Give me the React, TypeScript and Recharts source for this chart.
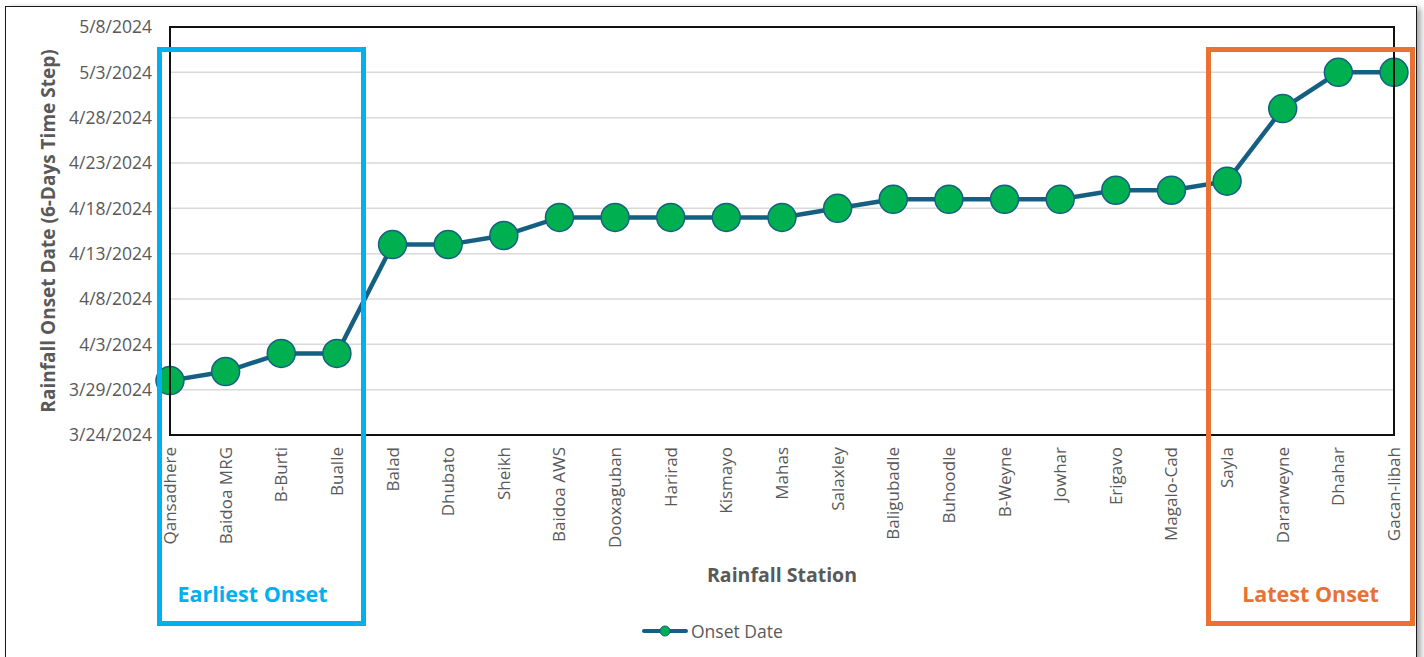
import React from "react";
import { LineChart, Line, XAxis, YAxis, CartesianGrid, Legend } from "recharts";

// Stations ordered from earliest to latest onset
const stations: string[] = [
  "Qansadhere", "Baidoa MRG", "B-Burti", "Bualle", "Balad", "Dhubato", "Sheikh",
  "Baidoa AWS", "Dooxaguban", "Harirad", "Kismayo", "Mahas", "Salaxley",
  "Baligubadle", "Buhoodle", "B-Weyne", "Jowhar", "Erigavo", "Magalo-Cad",
  "Sayla", "Dararweyne", "Dhahar", "Gacan-libah",
];

// Rainfall onset date per station (ISO)
const onsetDates: string[] = [
  "2024-03-30", "2024-03-31", "2024-04-02", "2024-04-02", "2024-04-14", "2024-04-14",
  "2024-04-15", "2024-04-17", "2024-04-17", "2024-04-17", "2024-04-17", "2024-04-17",
  "2024-04-18", "2024-04-19", "2024-04-19", "2024-04-19", "2024-04-19", "2024-04-20",
  "2024-04-20", "2024-04-21", "2024-04-29", "2024-05-03", "2024-05-03",
];

// Y-axis ticks, five days apart
const tickDates: string[] = [
  "2024-03-24", "2024-03-29", "2024-04-03", "2024-04-08", "2024-04-13",
  "2024-04-18", "2024-04-23", "2024-04-28", "2024-05-03", "2024-05-08",
];

const DAY = 86400000;
const toDay = (iso: string) => {
  const [y, m, d] = iso.split("-").map(Number);
  return Date.UTC(y, m - 1, d) / DAY;
};
const fmtDay = (v: number) => {
  const dt = new Date(v * DAY);
  return `${dt.getUTCMonth() + 1}/${dt.getUTCDate()}/${dt.getUTCFullYear()}`;
};

const data = stations.map((s, i) => ({ station: s, onset: toDay(onsetDates[i]) }));
const yTicks = tickDates.map(toDay);

const FONT = "'Open Sans', 'Noto Sans', sans-serif";
const LINE = "#156082";
const DOT = "#00B050";
const GREY = "#595959";

const StationTick = (props: any) => {
  const { x, y, payload } = props;
  return (
    <g transform={`translate(${x},${y})`}>
      <text
        transform="rotate(-90)"
        textAnchor="end"
        dy={6}
        x={0}
        y={0}
        fill={GREY}
        fontSize={17}
        fontFamily={FONT}
      >
        {payload.value}
      </text>
    </g>
  );
};

const LegendContent = () => (
  <div style={{ display: "flex", alignItems: "center", fontFamily: FONT, fontSize: 17.5, color: GREY }}>
    <svg width={46} height={12} style={{ marginRight: 3 }}>
      <line x1={2} y1={6} x2={44} y2={6} stroke={LINE} strokeWidth={4} strokeLinecap="round" />
      <circle cx={23} cy={6} r={5} fill={DOT} stroke={LINE} strokeWidth={1} />
    </svg>
    <span>Onset Date</span>
  </div>
);

const Box = ({
  left,
  width,
  color,
  label,
  shift = 0,
}: {
  left: number;
  width: number;
  color: string;
  label: string;
  shift?: number;
}) => (
  <div
    style={{
      position: "absolute",
      left,
      top: 47,
      width,
      height: 579,
      boxSizing: "border-box",
      border: `5px solid ${color}`,
      pointerEvents: "none",
    }}
  >
    <div
      style={{
        position: "absolute",
        left: shift,
        right: -shift,
        top: 527,
        textAlign: "center",
        color,
        fontFamily: FONT,
        fontWeight: 700,
        fontSize: 21.5,
        whiteSpace: "nowrap",
      }}
    >
      {label}
    </div>
  </div>
);

export default function App() {
  return (
    <div style={{ position: "absolute", left: 0, top: 0, width: 1424, height: 657, background: "#fff", overflow: "hidden" }}>
      <div
        style={{
          position: "absolute",
          left: 5,
          top: 6,
          width: 1412,
          height: 680,
          boxSizing: "border-box",
          border: "1.5px solid #1a1a1a",
          boxShadow: "4px 2px 6px rgba(0,0,0,0.35)",
          background: "#fff",
        }}
      />
      <div style={{ position: "absolute", left: 0, top: 0 }}>
        <LineChart
          width={1424}
          height={657}
          data={data}
          margin={{ top: 27, right: 30, bottom: 82, left: 0 }}
        >
          <CartesianGrid vertical={false} stroke="#d9d9d9" strokeWidth={1.5} />
          <XAxis
            dataKey="station"
            interval={0}
            height={140}
            tickLine={false}
            axisLine={false}
            tick={<StationTick />}
            tickSize={0}
            tickMargin={12}
            label={{
              content: (p: any) => {
                const vb = p.viewBox;
                return (
                  <text
                    x={vb.x + vb.width / 2}
                    y={582}
                    textAnchor="middle"
                    fill={GREY}
                    fontFamily={FONT}
                    fontWeight={700}
                    fontSize={19.5}
                  >
                    Rainfall Station
                  </text>
                );
              },
            }}
          />
          <YAxis
            type="number"
            domain={[yTicks[0], yTicks[yTicks.length - 1]]}
            ticks={yTicks}
            interval={0}
            width={170}
            tickFormatter={fmtDay}
            tickLine={false}
            axisLine={false}
            tickSize={0}
            tickMargin={18}
            tick={{ fill: GREY, fontSize: 17.5, fontFamily: FONT }}
            label={{
              content: (p: any) => {
                const vb = p.viewBox;
                const cx = 48;
                const cy = vb.y + vb.height / 2;
                return (
                  <text
                    x={cx}
                    y={cy}
                    transform={`rotate(-90 ${cx} ${cy})`}
                    textAnchor="middle"
                    dominantBaseline="central"
                    fill={GREY}
                    fontFamily={FONT}
                    fontWeight={700}
                    fontSize={19}
                  >
                    Rainfall Onset Date (6-Days Time Step)
                  </text>
                );
              },
            }}
          />
          <Legend
            layout="horizontal"
            verticalAlign="middle"
            align="center"
            content={<LegendContent />}
            wrapperStyle={{ top: 619, left: 642, width: 180 }}
          />
          <Line
            type="linear"
            dataKey="onset"
            name="Onset Date"
            stroke={LINE}
            strokeWidth={4.5}
            dot={{ r: 14, fill: DOT, stroke: LINE, strokeWidth: 1.5 }}
            activeDot={false}
            isAnimationActive={false}
          />
        </LineChart>
      </div>
      {/* plot frame */}
      <div
        style={{
          position: "absolute",
          left: 169,
          top: 26,
          width: 1226,
          height: 410,
          boxSizing: "border-box",
          border: "2px solid #111",
          pointerEvents: "none",
        }}
      />
      <Box left={157} width={209} color="#00B0F0" label="Earliest Onset" shift={-9} />
      <Box left={1206} width={209} color="#E97132" label="Latest Onset" />
    </div>
  );
}
